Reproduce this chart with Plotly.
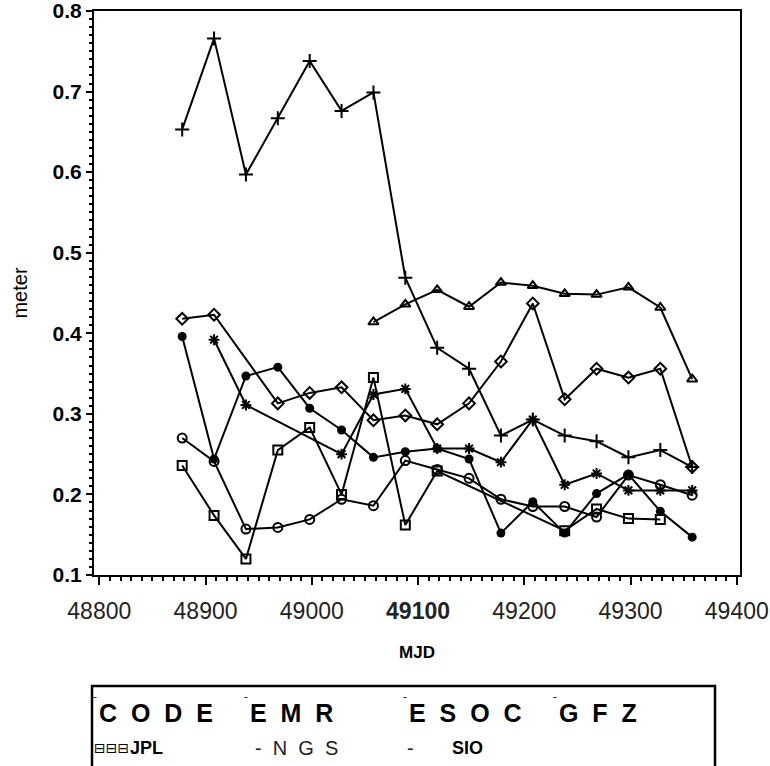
import plotly.graph_objects as go

# ---------------- data ----------------
mjd = [48878, 48908, 48938, 48968, 48998, 49028, 49058, 49088, 49118,
       49148, 49178, 49208, 49238, 49268, 49298, 49328, 49358]

code = [0.653, 0.766, 0.597, 0.667, 0.738, 0.676, 0.699, 0.469, 0.382,
        0.356, 0.273, 0.293, 0.273, 0.266, 0.246, 0.255, 0.234]
emr = [None, 0.392, 0.311, None, None, 0.250, 0.324, 0.331, 0.257,
       0.257, 0.240, 0.293, 0.212, 0.226, 0.205, 0.205, 0.205]
esoc = [0.396, 0.244, 0.347, 0.358, 0.307, 0.280, 0.246, 0.253, 0.257,
        0.244, 0.152, 0.191, 0.152, 0.201, 0.225, 0.179, 0.147]
gfz = [0.418, 0.423, None, 0.313, 0.326, 0.333, 0.292, 0.298, 0.287,
       0.313, 0.365, 0.437, 0.318, 0.356, 0.345, 0.356, 0.234]
jpl = [0.236, 0.174, 0.120, 0.255, 0.283, 0.200, 0.345, 0.162, 0.229,
       None, None, None, 0.155, 0.182, 0.170, 0.169, None]
ngs = [0.270, 0.241, 0.157, 0.159, 0.169, 0.194, 0.186, 0.242, 0.231,
       0.220, 0.194, 0.185, 0.185, 0.172, 0.224, 0.212, 0.199]
sio = [None, None, None, None, None, None, 0.414, 0.436, 0.454,
       0.433, 0.463, 0.459, 0.449, 0.448, 0.457, 0.432, 0.343]

series_names = ["CODE", "EMR", "ESOC", "GFZ", "JPL", "NGS", "SIO"]
series_values = [code, emr, esoc, gfz, jpl, ngs, sio]
series_symbols = ["cross-thin-open", "asterisk-open", "circle", "diamond-open",
                  "square-open", "circle-open", "triangle-up-open"]

x_tickvals = [48800, 48900, 49000, 49100, 49200, 49300, 49400]
x_ticktext = ["48800", "48900", "49000", "<b>49100</b>", "49200", "49300", "49400"]
y_tickvals = [0.1, 0.2, 0.3, 0.4, 0.5, 0.6, 0.7, 0.8]
y_ticktext = ["0.1", "0.2", "0.3", "0.4", "0.5", "0.6", "0.7", "0.8"]

# ---------------- figure ----------------
W, H = 770, 766
ML, MR, MT, MB = 94, 30, 11, 191
PW, PH = W - ML - MR, H - MT - MB


def px_x(px):
    return (px - ML) / PW


def px_y(py):
    return (H - MB - py) / PH


fig = go.Figure()
for name, vals, sym in zip(series_names, series_values, series_symbols):
    filled = sym == "circle"
    fig.add_trace(go.Scatter(
        x=mjd, y=vals, name=name, mode="lines+markers",
        connectgaps=True,
        line=dict(color="black", width=2),
        marker=dict(symbol=sym, size=9 if sym != "cross-thin-open" else 10,
                    color="black",
                    line=dict(color="black", width=2 if not filled else 0)),
    ))

fig.update_layout(
    width=W, height=H,
    margin=dict(l=ML, r=MR, t=MT, b=MB, autoexpand=False),
    plot_bgcolor="white", paper_bgcolor="white",
    showlegend=False,
    font=dict(family="Liberation Sans", color="black"),
)

fig.update_xaxes(
    range=[48795, 49403],
    tickmode="array", tickvals=x_tickvals, ticktext=x_ticktext,
    tickfont=dict(family="Liberation Sans", size=23, color="#222"),
    ticks="outside", ticklen=8, tickwidth=2, tickcolor="black",
    ticklabelstandoff=6, ticklabeloverflow="allow", automargin=False,
    minor=dict(dtick=10, tick0=48800, ticks="outside", ticklen=4,
               tickwidth=1.5, tickcolor="black", showgrid=False),
    showline=True, linewidth=2, linecolor="black", mirror=True,
    showgrid=False, zeroline=False,
    title=dict(text="<b>MJD</b>", font=dict(size=17, family="Liberation Sans"),
               standoff=24),
)
fig.update_yaxes(
    range=[0.1, 0.8],
    tickmode="array", tickvals=y_tickvals, ticktext=y_ticktext,
    tickfont=dict(family="Liberation Sans", size=21, color="black", weight="bold"),
    ticks="outside", ticklen=6, tickwidth=2, tickcolor="black",
    ticklabeloverflow="allow", automargin=False,
    minor=dict(dtick=0.01, tick0=0.1, ticks="outside", ticklen=3,
               tickwidth=1.5, tickcolor="black", showgrid=False),
    showline=True, linewidth=2, linecolor="black", mirror=True,
    showgrid=False, zeroline=False,
    title=dict(text="meter", font=dict(size=20, family="Liberation Sans"),
               standoff=20),
)

# ---------------- legend box (drawn as text) ----------------
fig.add_shape(type="rect", xref="paper", yref="paper",
              x0=px_x(92), x1=px_x(715), y0=px_y(686), y1=px_y(775),
              line=dict(color="black", width=2.5), fillcolor="rgba(0,0,0,0)")

NB = "\u00a0"


def spaced(s, gap=1):
    return (NB * gap).join(list(s))


row1_y = px_y(713)
row2_y = px_y(748)
row1 = [(series_names[0], 97), (series_names[1], 248),
        (series_names[2], 407), (series_names[3], 557)]
for label, x0 in row1:
    fig.add_annotation(x=px_x(x0 - 6), y=px_y(702), xref="paper", yref="paper",
                       text="ˉ", showarrow=False, xanchor="left", yanchor="middle",
                       font=dict(size=12, color="black"))
    fig.add_annotation(x=px_x(x0), y=row1_y, xref="paper", yref="paper",
                       text="<b>" + spaced(label, 2) + "</b>", showarrow=False,
                       xanchor="left", yanchor="middle",
                       font=dict(size=25, family="Liberation Sans", color="black"))

# JPL entry with symbol sample
fig.add_annotation(x=px_x(92), y=row2_y, xref="paper", yref="paper",
                   text="\u229f\u229f\u229f", showarrow=False, xanchor="left",
                   yanchor="middle", font=dict(size=14, family="DejaVu Sans", color="black"))
fig.add_annotation(x=px_x(128), y=row2_y, xref="paper", yref="paper",
                   text="<b>" + series_names[4] + "</b>", showarrow=False,
                   xanchor="left", yanchor="middle",
                   font=dict(size=18, family="Liberation Sans Narrow, Liberation Sans", color="black"))
fig.add_annotation(x=px_x(253), y=row2_y, xref="paper", yref="paper",
                   text="-" + NB + " " + spaced(series_names[5], 2), showarrow=False,
                   xanchor="left", yanchor="middle",
                   font=dict(size=20, family="Liberation Sans", color="#222"))
fig.add_annotation(x=px_x(405), y=row2_y, xref="paper", yref="paper",
                   text="-", showarrow=False, xanchor="left", yanchor="middle",
                   font=dict(size=20, family="Liberation Sans", color="#222"))
fig.add_annotation(x=px_x(450), y=row2_y, xref="paper", yref="paper",
                   text="<b>" + series_names[6] + "</b>", showarrow=False,
                   xanchor="left", yanchor="middle",
                   font=dict(size=18, family="Liberation Sans Narrow, Liberation Sans", color="black"))

fig.write_html("out.html")
